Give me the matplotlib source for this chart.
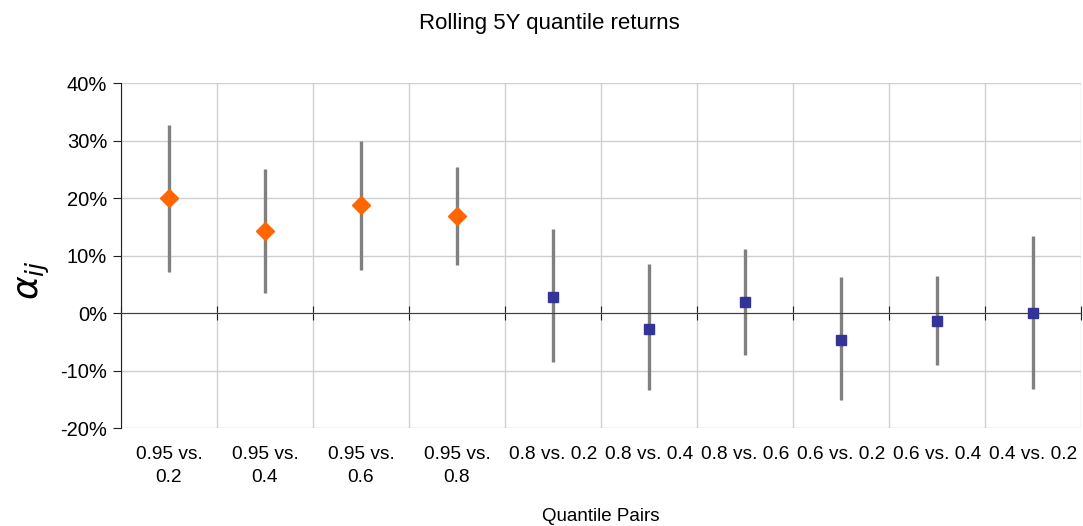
import numpy as np
import matplotlib
matplotlib.use('Agg')
import matplotlib.pyplot as plt
from matplotlib.ticker import PercentFormatter

plt.rcParams['font.family'] = ['Liberation Sans', 'DejaVu Sans']
plt.rcParams['axes.unicode_minus'] = False

pairs = ['0.95 vs.\n0.2', '0.95 vs.\n0.4', '0.95 vs.\n0.6', '0.95 vs.\n0.8',
         '0.8 vs. 0.2', '0.8 vs. 0.4', '0.8 vs. 0.6', '0.6 vs. 0.2',
         '0.6 vs. 0.4', '0.4 vs. 0.2']
# point estimate and interval ends, in %
alpha = [20.0, 14.3, 18.8, 16.9, 2.8, -2.7, 1.9, -4.7, -1.4, 0.1]
upper = [32.7, 25.0, 29.9, 25.4, 14.6, 8.5, 11.1, 6.2, 6.5, 13.4]
lower = [7.1, 3.5, 7.5, 8.3, -8.5, -13.4, -7.2, -15.1, -9.0, -13.2]
top_group = 4  # first four pairs use the 0.95 quantile

x = np.arange(len(pairs))
alpha = np.array(alpha)
upper = np.array(upper)
lower = np.array(lower)

fig = plt.figure(figsize=(10.83, 5.26), dpi=100)
ax = fig.add_axes([0.1117, 0.186, 0.8865, 0.656])

ax.vlines(x, lower, upper, color='#808080', lw=2.4, zorder=2)
ax.plot(x[:top_group], alpha[:top_group], 'D', color='#FF6600', ms=9, zorder=3)
ax.plot(x[top_group:], alpha[top_group:], 's', color='#333399', ms=7.5, zorder=3)

ax.set_xlim(-0.5, len(pairs) - 0.5)
ax.set_ylim(-20, 40)
ax.set_yticks(np.arange(-20, 41, 10))
ax.yaxis.set_major_formatter(PercentFormatter(decimals=0))

# grid: horizontal at each 10%, vertical at category boundaries
ax.set_xticks(np.arange(-0.5, len(pairs), 1.0))
ax.grid(True, which='major', color='#d0d0d0', lw=1)
ax.set_axisbelow(True)

for s in ['top', 'right']:
    ax.spines[s].set_visible(False)
ax.spines['left'].set_color('#202020')
ax.spines['bottom'].set_position(('data', 0))
ax.spines['bottom'].set_color('#404040')
ax.tick_params(axis='x', which='major', direction='inout', length=10,
               color='#202020', labelbottom=False)
ax.tick_params(axis='y', direction='out', length=6, color='#202020',
               labelsize=14.5, pad=4)

sec = ax.secondary_xaxis(location=0)
sec.set_xticks(x)
sec.set_xticklabels(pairs, fontsize=13.8, linespacing=1.45, va='top')
sec.tick_params(length=0, pad=13)
sec.spines['bottom'].set_visible(False)

ax.set_xlabel('Quantile Pairs', fontsize=13.5, labelpad=0)
ax.xaxis.set_label_coords(0.5, -0.23)
ax.set_ylabel(r'$\alpha_{ij}$', fontsize=26)
ax.yaxis.set_label_coords(-0.072, 0.43)

fig.suptitle('Rolling 5Y quantile returns', x=0.507, y=0.975, fontsize=16)

fig.savefig('out.png', dpi=100)
